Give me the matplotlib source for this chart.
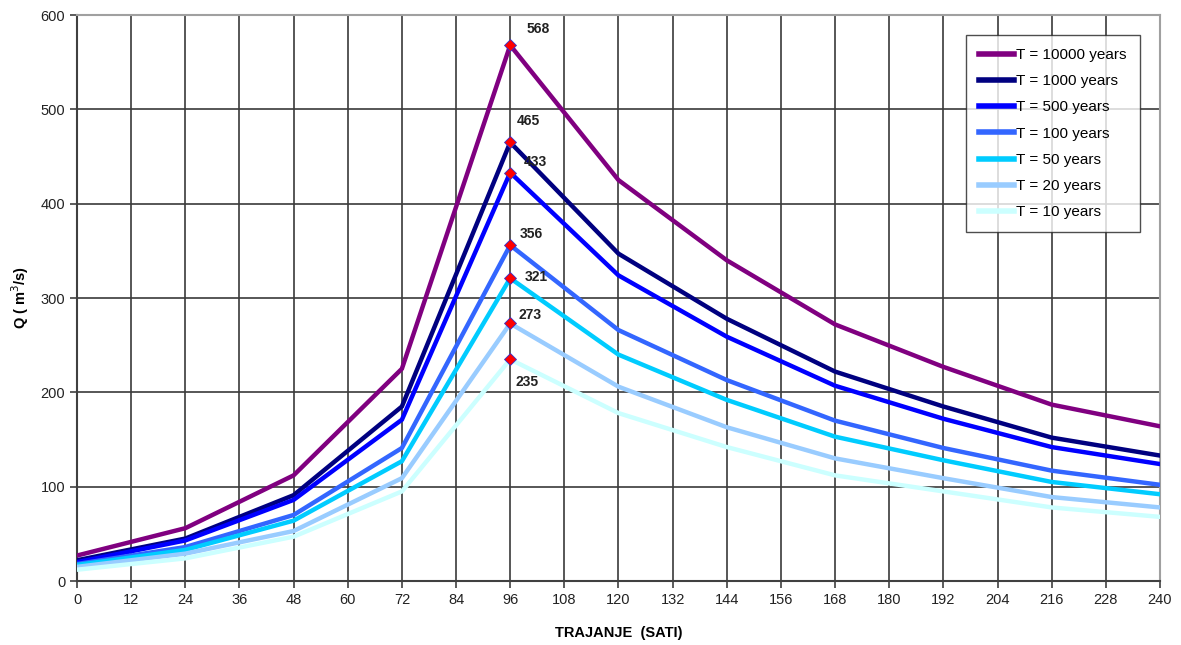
import matplotlib
matplotlib.use("Agg")
import matplotlib.pyplot as plt

plt.rcParams.update({
    "font.family": ["Liberation Sans", "DejaVu Sans"],
    "font.size": 10.5,
})

# hours
hours = [0, 24, 48, 72, 96, 120, 144, 168, 192, 216, 240]

q_10000 = [27, 56, 112, 225, 568, 425, 340, 272, 227, 187, 164]
q_1000 = [22, 45, 91, 185, 465, 347, 278, 222, 185, 152, 133]
q_500 = [20, 43, 86, 171, 433, 324, 259, 207, 172, 142, 124]
q_100 = [18, 36, 70, 141, 356, 266, 213, 170, 141, 117, 102]
q_50 = [17, 33, 64, 127, 321, 240, 192, 153, 128, 105, 92]
q_20 = [15, 29, 53, 109, 273, 206, 163, 130, 109, 89, 78]
q_10 = [12, 24, 47, 95, 235, 178, 142, 112, 95, 78, 68]

series = [
    ("T = 10000 years", q_10000, "#800080"),
    ("T = 1000 years", q_1000, "#000080"),
    ("T = 500 years", q_500, "#0000FF"),
    ("T = 100 years", q_100, "#3366FF"),
    ("T = 50 years", q_50, "#00CCFF"),
    ("T = 20 years", q_20, "#99CCFF"),
    ("T = 10 years", q_10, "#CCFFFF"),
]

peak_idx = 4
# label offsets in pixels (dx, dy) for each peak label
label_offsets = [(16, 16), (7, 21), (14, 11), (10, 11), (15, 1), (8, 8), (5, -23)]

fig = plt.figure(figsize=(11.81, 6.45), dpi=100)
ax = fig.add_axes([0.0652, 0.0992, 0.9170, 0.8775])

for name, vals, color in series:
    ax.plot(hours, vals, color=color, lw=3.2, label=name, zorder=3,
            solid_joinstyle="miter")

for (name, vals, color), (dx, dy) in zip(series, label_offsets):
    y = vals[peak_idx]
    ax.plot(hours[peak_idx], y, marker="D", markersize=6.5,
            markerfacecolor="#FF0000", markeredgecolor="#3333CC",
            markeredgewidth=0.6, zorder=5)
    ax.annotate(f"{y}", xy=(hours[peak_idx], y), xytext=(dx, dy),
                textcoords="offset pixels", ha="left", va="center",
                fontsize=10, fontweight="bold", color="#222222", zorder=6)

ax.set_xlim(0, 240)
ax.set_ylim(0, 600)
ax.set_xticks(range(0, 241, 12))
ax.set_yticks(range(0, 601, 100))
ax.grid(True, color="#3a3a3a", lw=1.2, zorder=0)
ax.tick_params(direction="out", length=5, width=1.2, color="#404040",
               labelsize=10.5, labelcolor="#222222")

for side in ["left", "bottom"]:
    ax.spines[side].set_color("#404040")
    ax.spines[side].set_linewidth(1.5)
for side in ["top", "right"]:
    ax.spines[side].set_color("#A0A0A0")
    ax.spines[side].set_linewidth(1.5)

ax.set_xlabel("TRAJANJE  (SATI)", fontweight="bold", fontsize=10.5, labelpad=14)
ax.set_ylabel("Q ( m$^3$/s)", fontweight="bold", fontsize=10.5, labelpad=7)

leg = ax.legend(loc="upper right", bbox_to_anchor=(0.9815, 0.9647),
                fontsize=11, frameon=True, fancybox=False, edgecolor="#222222",
                handlelength=2.3, handletextpad=0.15, labelspacing=0.8,
                borderpad=0.85, borderaxespad=0)
leg.get_frame().set_linewidth(1.0)
for line in leg.get_lines():
    line.set_linewidth(4)

fig.savefig("out.png", dpi=100)
plt.close(fig)
